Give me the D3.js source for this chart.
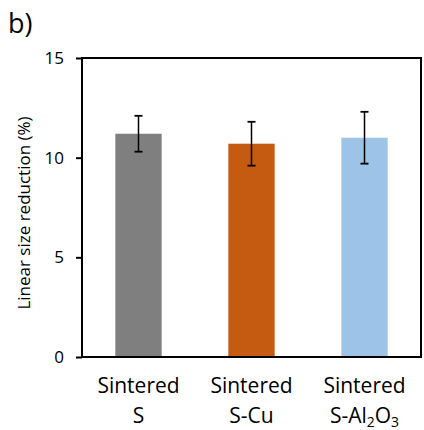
<!DOCTYPE html>
<html>
<head>
<meta charset="utf-8">
<script src="https://cdn.jsdelivr.net/npm/d3@7"></script>
<style>
  body { margin: 0; background: #fff; }
  text { font-family: "Open Sans", "Noto Sans", sans-serif; fill: #000; }
</style>
</head>
<body>
<div id="chart"></div>
<script>
// data
var categories = ["S", "S-Cu", "S-Al2O3"];
var values = [11.2, 10.7, 11.0];
var errors = [0.9, 1.1, 1.3];
var colors = ["#7f7f7f", "#c55a11", "#9dc3e6"];
var yTicks = [0, 5, 10, 15];

var W = 424, H = 430;
var margin = {top: 58, right: 3, bottom: 73, left: 82};
var width = W - margin.left - margin.right,
    height = H - margin.top - margin.bottom;

var svg = d3.select("#chart").append("svg")
    .attr("width", W)
    .attr("height", H);

svg.append("text")
    .attr("x", 8)
    .attr("y", 33)
    .style("font-size", "27px")
    .text("b)");

var g = svg.append("g")
    .attr("transform", "translate(" + margin.left + "," + margin.top + ")");

var x = d3.scaleBand()
    .domain(categories)
    .range([0, width])
    .paddingInner(0.59)
    .paddingOuter(0.295);

var y = d3.scaleLinear()
    .domain([0, 15])
    .range([height, 0]);

// bars
g.selectAll("rect.bar")
    .data(values)
    .enter().append("rect")
    .attr("class", "bar")
    .attr("x", function(d, i) { return x(categories[i]); })
    .attr("y", function(d) { return y(d); })
    .attr("width", x.bandwidth())
    .attr("height", function(d) { return y(0) - y(d); })
    .style("fill", function(d, i) { return colors[i]; });

// error bars
var err = g.selectAll("g.err")
    .data(values)
    .enter().append("g")
    .attr("class", "err")
    .attr("transform", function(d, i) { return "translate(" + (x(categories[i]) + x.bandwidth() / 2) + ",0)"; });

err.append("line")
    .attr("y1", function(d, i) { return y(d + errors[i]); })
    .attr("y2", function(d, i) { return y(d - errors[i]); })
    .style("stroke", "#000")
    .style("stroke-width", 1.5);

err.append("line")
    .attr("x1", -4).attr("x2", 4)
    .attr("y1", function(d, i) { return y(d + errors[i]); })
    .attr("y2", function(d, i) { return y(d + errors[i]); })
    .style("stroke", "#000")
    .style("stroke-width", 1.8);

err.append("line")
    .attr("x1", -4).attr("x2", 4)
    .attr("y1", function(d, i) { return y(d - errors[i]); })
    .attr("y2", function(d, i) { return y(d - errors[i]); })
    .style("stroke", "#000")
    .style("stroke-width", 1.8);

// frame
g.append("rect")
    .attr("x", 0).attr("y", 0)
    .attr("width", width).attr("height", height)
    .style("fill", "none")
    .style("stroke", "#000")
    .style("stroke-width", 2);

// y axis
var yAxis = g.append("g")
    .call(d3.axisLeft(y).tickValues(yTicks).tickSize(6).tickPadding(12));
yAxis.select(".domain").remove();
yAxis.selectAll(".tick line").style("stroke", "#000").style("stroke-width", 2);
yAxis.selectAll(".tick text")
    .style("font-size", "17px")
    .style("font-family", "'Open Sans', sans-serif")
    .attr("fill", "#000");

svg.append("text")
    .attr("transform", "translate(30,213) rotate(-90)")
    .attr("text-anchor", "middle")
    .style("font-size", "17px")
    .text("Linear size reduction (%)");

// x labels
var xl = g.selectAll("g.xl")
    .data(categories)
    .enter().append("g")
    .attr("class", "xl")
    .attr("transform", function(d) { return "translate(" + (x(d) + x.bandwidth() / 2) + "," + height + ")"; });

xl.append("text")
    .attr("y", 36)
    .attr("text-anchor", "middle")
    .style("font-size", "21px")
    .text("Sintered");

var t2 = xl.append("text")
    .attr("y", 66)
    .attr("text-anchor", "middle")
    .style("font-size", "21px");

t2.each(function(d) {
  var t = d3.select(this);
  if (d === "S-Al2O3") {
    t.append("tspan").text("S-Al");
    t.append("tspan").attr("dy", 4).style("font-size", "14px").text("2");
    t.append("tspan").attr("dy", -4).text("O");
    t.append("tspan").attr("dy", 4).style("font-size", "14px").text("3");
  } else {
    t.text(d);
  }
});
</script>
</body>
</html>
